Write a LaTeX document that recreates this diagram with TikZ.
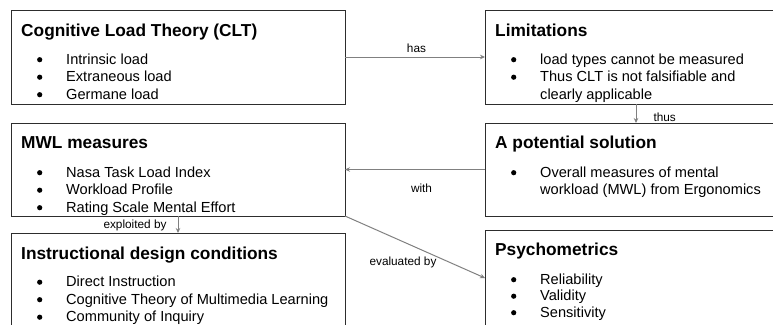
\documentclass[tikz,border=0pt]{standalone}
\usepackage{fontspec}
\setmainfont{Liberation Sans}
\usetikzlibrary{arrows.meta,positioning}
\definecolor{cmFrame}{RGB}{ 45, 45, 45}
\definecolor{cmLink} {RGB}{128,128,128}
\newcommand{\headfont}{\fontsize{17.3}{20}\selectfont\bfseries}
\newcommand{\itemfont}{\fontsize{14.6}{17.5}\selectfont}
\newcommand{\linkfont}{\fontsize{11.8}{14}\selectfont}
\newcommand{\bul}{\makebox[31pt][l]{\hspace{1.9pt}\tikz[baseline=0pt]\fill (0pt,4.3pt) circle[radius=2.6pt];}}
\newcommand{\nobul}{\hspace*{31pt}}

\begin{document}
\begin{tikzpicture}[x=1pt,y=-1pt,
  box/.style={draw=cmFrame,line width=1pt,rectangle,inner sep=0pt,
              outer sep=0pt,anchor=north west},
  head/.style={anchor=base west,inner sep=0pt,font=\headfont},
  item/.style={anchor=base west,inner sep=0pt,font=\itemfont},
  link/.style={draw=cmLink,line width=1pt,-{Stealth[length=5pt,width=4.5pt]}},
  lbl/.style={inner sep=0pt,font=\linkfont}
]
\useasboundingbox (0,0) rectangle (773,324);
\clip (0,0) rectangle (773,324);

% the six boxes
\node[box,minimum width=334pt,minimum height=94pt] (clt) at (11,10)  {};
\node[box,minimum width=334pt,minimum height=93pt] (mwl) at (11,123) {};
\node[box,minimum width=334pt,minimum height=95pt] (idc) at (11,233) {};
\node[box,minimum width=302pt,minimum height=94pt] (lim) at (485,10)  {};
\node[box,minimum width=302pt,minimum height=93pt] (sol) at (485,123) {};
\node[box,minimum width=302pt,minimum height=96pt] (psy) at (485,230) {};

% headings
\node[head] (clt-h) at ([shift={(10,26)}]clt.north west) {Cognitive Load Theory (CLT)};
\node[head] (mwl-h) at ([shift={(10,25.5)}]mwl.north west) {MWL measures};
\node[head] (idc-h) at ([shift={(10,26)}]idc.north west) {Instructional design conditions};
\node[head] (lim-h) at ([shift={(10,26)}]lim.north west) {Limitations};
\node[head] (sol-h) at ([shift={(10,25)}]sol.north west) {A potential solution};
\node[head] (psy-h) at ([shift={(10,25)}]psy.north west) {Psychometrics};

% bullet lists
\node[item] (clt-l) at ([shift={(24,54)}]clt.north west)
  {\begin{tabular}[t]{@{}l@{}}\bul Intrinsic load\\ \bul Extraneous load\\ \bul Germane load\end{tabular}};
\node[item] (mwl-l) at ([shift={(24,54)}]mwl.north west)
  {\begin{tabular}[t]{@{}l@{}}\bul Nasa Task Load Index\\ \bul Workload Profile\\ \bul Rating Scale Mental Effort\end{tabular}};
\node[item] (idc-l) at ([shift={(24,53.5)}]idc.north west)
  {\begin{tabular}[t]{@{}l@{}}\bul Direct Instruction\\ \bul Cognitive Theory of Multimedia Learning\\ \bul Community of Inquiry\end{tabular}};
\node[item] (lim-l) at ([shift={(24,54)}]lim.north west)
  {\begin{tabular}[t]{@{}l@{}}\bul load types cannot be measured\\ \bul Thus CLT is not falsifiable and\\ \nobul clearly applicable\end{tabular}};
\node[item] (sol-l) at ([shift={(24,54)}]sol.north west)
  {\begin{tabular}[t]{@{}l@{}}\bul Overall measures of mental\\ \nobul workload (MWL) from Ergonomics\end{tabular}};
\node[item,font=\fontsize{14.6}{16.5}\selectfont] (psy-l) at ([shift={(24,54)}]psy.north west)
  {\begin{tabular}[t]{@{}l@{}}\bul Reliability\\ \bul Validity\\ \bul Sensitivity\end{tabular}};

% connectors
\draw[link] (clt) -- (lim)
  node[lbl,pos=0.5,anchor=base,xshift=1.5pt,yshift=5pt] (has-t) {has};
\draw[link] (lim) -- (sol)
  node[lbl,pos=0.5,anchor=base west,xshift=17pt,yshift=-7.5pt] (thus-t) {thus};
\draw[link] (sol) -- (mwl)
  node[lbl,pos=0.5,anchor=base,xshift=6.5pt,yshift=-22.5pt] (with-t) {with};
\draw[link] (mwl) -- (idc)
  node[lbl,pos=0.5,anchor=base east,xshift=-11pt,yshift=-4pt] (expl-t) {exploited by};
\draw[link] (mwl.south east) -- (psy.west)
  node[lbl,pos=0.5,anchor=base,xshift=-12pt,yshift=-18pt] (eval-t) {evaluated by};
\end{tikzpicture}
\end{document}
